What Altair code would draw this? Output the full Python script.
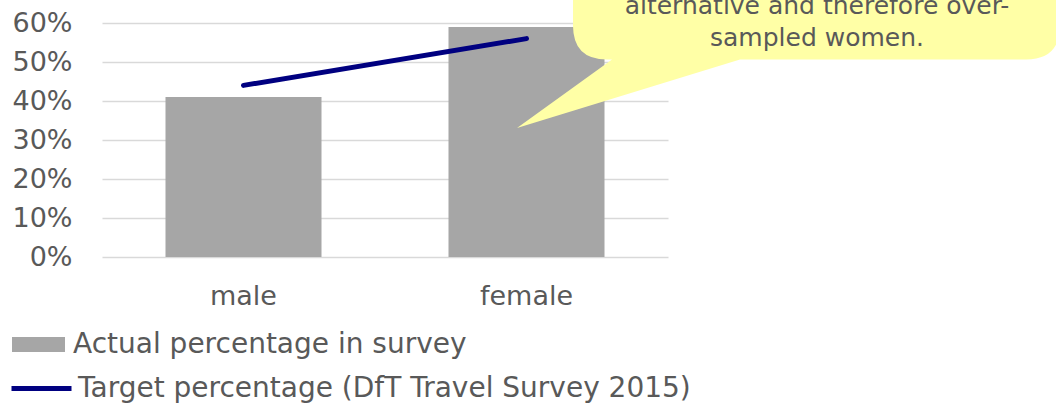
import altair as alt
import pandas as pd

# Survey sample split by gender versus the national target split
categories = ["male", "female"]
actual_share = [0.41, 0.59]
target_share = [0.44, 0.56]
y_ticks = [0.0, 0.1, 0.2, 0.3, 0.4, 0.5, 0.6]

actual_label = "Actual percentage in survey"
target_label = "Target percentage (DfT Travel Survey 2015)"
note_lines = ["alternative and therefore over-", "sampled women."]

bars_df = pd.DataFrame({"gender": categories, "share": actual_share, "series": actual_label})
line_df = pd.DataFrame({"gender": categories, "share": target_share, "series": target_label})

FONT = "DejaVu Sans"
GREY_TEXT = "#595959"

x_enc = alt.X(
    "gender:N",
    sort=categories,
    scale=alt.Scale(paddingInner=0.45, paddingOuter=0.225),
    axis=alt.Axis(title=None, labelAngle=0, domain=False, ticks=False, grid=False,
                  labelPadding=26, labelFontSize=27, labelFont=FONT, labelColor=GREY_TEXT),
)
y_enc = alt.Y(
    "share:Q",
    scale=alt.Scale(domain=[0, 0.6], nice=False),
    axis=alt.Axis(title=None, values=y_ticks, format=".0%", domain=False, ticks=False,
                  labelOverlap=False, labelPadding=30, labelFontSize=27, labelFont=FONT,
                  labelColor=GREY_TEXT, gridColor="#d9d9d9", gridWidth=1.5),
)

bars = alt.Chart(bars_df).mark_bar(size=156).encode(
    x=x_enc,
    y=y_enc,
    fill=alt.Fill(
        "series:N",
        scale=alt.Scale(domain=[actual_label], range=["#a6a6a6"]),
        legend=alt.Legend(title=None, orient="none", legendX=-90, legendY=295,
                          symbolType="M-1,-0.283L1,-0.283L1,0.283L-1,0.283Z",
                          symbolSize=2809, symbolStrokeWidth=0, labelOffset=8,
                          labelLimit=1000, labelFontSize=28, labelFont=FONT,
                          labelColor=GREY_TEXT, padding=0),
    ),
)

target_line = alt.Chart(line_df).mark_line(strokeWidth=5, strokeCap="round").encode(
    x=x_enc,
    y=y_enc,
    stroke=alt.Stroke(
        "series:N",
        scale=alt.Scale(domain=[target_label], range=["#000080"]),
        legend=alt.Legend(title=None, orient="none", legendX=-93, legendY=333,
                          symbolType="stroke", symbolSize=3600, symbolStrokeWidth=5,
                          labelOffset=4, labelLimit=1000, labelFontSize=28, labelFont=FONT,
                          labelColor=GREY_TEXT, padding=0),
    ),
)

# Speech-bubble callout: rounded box with a pointer towards the female bar
bubble_path = (
    "M471,-63 L471,2.5 Q471,36.5 505,36.5 L510,36.5 L415,105 L638,36.5 "
    "L924,36.5 Q958,36.5 958,2.5 L958,-63 Z"
)
bubble = alt.Chart(bars_df.head(1)).mark_point(
    shape=bubble_path, size=4, filled=True, fill="#ffffa6", opacity=1, strokeWidth=0
).encode(x=alt.value(0), y=alt.value(0))

note = alt.Chart(bars_df.head(1)).mark_text(
    align="center", baseline="alphabetic", font=FONT, fontSize=25,
    lineHeight=31.5, color=GREY_TEXT
).encode(x=alt.value(715), y=alt.value(-9), text=alt.value(note_lines))

chart = (
    alt.layer(bars, target_line, bubble, note)
    .resolve_scale(fill="independent", stroke="independent")
    .properties(
        width=566,
        height=234,
        autosize=alt.AutoSizeParams(type="none"),
        padding={"left": 102, "top": 23, "right": 388, "bottom": 147},
    )
    .configure(background="white")
    .configure_view(strokeWidth=0)
)

chart.save("out.html", embed_options={"renderer": "svg", "actions": False})
